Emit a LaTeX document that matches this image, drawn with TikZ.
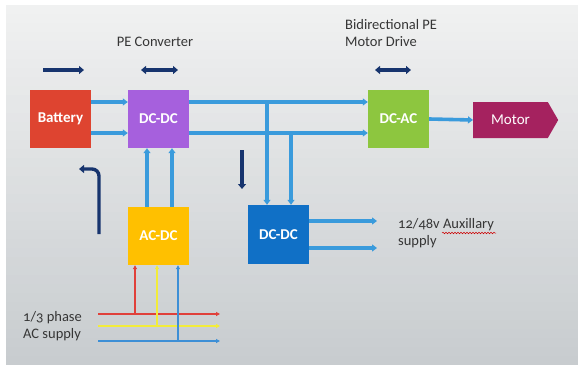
\documentclass[tikz,border=0pt]{standalone}
\usepackage{fontspec}
\setmainfont{Carlito}[Numbers=OldStyle]
\usetikzlibrary{arrows.meta,shapes.symbols,decorations.pathmorphing}
\definecolor{batred}{HTML}{DE4430}
\definecolor{dcpurple}{HTML}{A660DD}
\definecolor{acgreen}{HTML}{8DC63F}
\definecolor{motred}{HTML}{A5225F}
\definecolor{acyellow}{HTML}{FFC000}
\definecolor{auxblue}{HTML}{1070C6}
\definecolor{busblue}{HTML}{3A9BDC}
\definecolor{navy}{HTML}{17346E}
\definecolor{txtgray}{HTML}{363636}
\definecolor{phred}{HTML}{E0403A}
\definecolor{phyellow}{HTML}{F2EC3A}
\definecolor{phblue}{HTML}{3D8FD6}
\definecolor{bgtop}{RGB}{240,241,241}
\definecolor{bgbot}{RGB}{200,204,207}
\tikzset{
  blk/.style={minimum width=61pt, minimum height=58pt, inner sep=0pt, text=white, font=\fontsize{15}{17}\selectfont\bfseries},
  bus/.style={draw=busblue, line width=3.6pt, -{Triangle[length=5pt,width=7pt]}},
  navyarr/.style={draw=navy, line width=3.4pt, -{Triangle[length=5pt,width=8pt]}},
  navydbl/.style={draw=navy, line width=3.4pt, {Triangle[length=5pt,width=8pt]}-{Triangle[length=5pt,width=8pt]}},
  phase/.style={line width=1.2pt, -{Triangle[length=4pt,width=4pt]}},
  lbl/.style={text=txtgray, font=\fontsize{14.5}{17.5}\selectfont, align=left, inner sep=0pt}
}
\begin{document}
\begin{tikzpicture}[x=1pt,y=-1pt]
\useasboundingbox (0,0) rectangle (578,364);
\fill[white] (0,0) rectangle (578,364);
\fill[bgbot] (6,5) rectangle (578,364);
\foreach \i in {0,...,39} {
  \pgfmathtruncatemacro\p{round(\i/39*100)}
  \fill[bgbot!\p!bgtop] (6,{5+\i*9}) rectangle (578,{5+\i*9+9.5});
}

% blocks
\node[blk, fill=batred] (bat) at (60.5,119) {Battery};
\node[blk, fill=dcpurple] (dcdc) at (158.5,119) {DC-DC};
\node[blk, fill=acgreen] (dcac) at (398.5,119) {DC-AC};
\node[blk, fill=acyellow] (acdc) at (158.5,236) {AC-DC};
\node[blk, fill=auxblue, minimum height=59pt] (aux) at (278.5,234.5) {DC-DC};
\node[signal, signal to=east, signal pointer angle=120, fill=motred, text=white,
      minimum width=85pt, minimum height=36pt, inner sep=0pt, anchor=west,
      font=\fontsize{15}{17}\selectfont] (motor) at (473,120) {Motor};

% labels
\node[lbl] (pec) at (155,42) {PE Converter};
\node[lbl, anchor=north west] (bid) at (345,19) {Bidirectional PE\\Motor Drive};
\node[lbl, anchor=west] (auxl) at (398,233) {12/48v Auxillary\\supply};
\node[lbl, anchor=west] (acl) at (23,326) {1/3 phase\\AC supply};
\draw[red!80!black, line width=0.5pt, decorate, decoration={snake, amplitude=0.8pt, segment length=3pt}] (442,233) -- (496,233);

% coordinates
\coordinate (ytop) at (0,102);
\coordinate (ybot) at (0,133);
\coordinate (tap1) at (267,102);
\coordinate (tap2) at (291,133);
\coordinate (o1) at (377,221);
\coordinate (o2) at (377,248);

% battery -> dcdc
\draw[bus] (bat.east |- ytop) -- (dcdc.west |- ytop);
\draw[bus] (bat.east |- ybot) -- (dcdc.west |- ybot);
% dcdc -> dcac
\draw[bus] (dcdc.east |- ytop) -- (dcac.west |- ytop);
\draw[bus] (dcdc.east |- ybot) -- (dcac.west |- ybot);
% taps to aux dcdc
\draw[bus] (tap1) -- (tap1 |- aux.north);
\draw[bus] (tap2) -- (tap2 |- aux.north);
% acdc -> dcdc
\draw[bus] (acdc.north -| 147,0) -- (dcdc.south -| 147,0);
\draw[bus] (acdc.north -| 172,0) -- (dcdc.south -| 172,0);
% dcac -> motor
\draw[bus] (dcac.east) -- (motor.west);
% aux outputs
\draw[bus] (aux.east |- o1) -- (o1);
\draw[bus] (aux.east |- o2) -- (o2);

% phases
\coordinate (r0) at (98,314); \coordinate (r1) at (220,314);
\coordinate (y0) at (98,326); \coordinate (y1) at (220,326);
\coordinate (b0) at (98,341); \coordinate (b1) at (220,341);
\draw[phase, phred] (r0) -- (r1);
\draw[phase, phyellow] (y0) -- (y1);
\draw[phase, phblue] (b0) -- (b1);
\draw[phase, phred] (135,314) -- (acdc.south -| 135,0);
\draw[phase, phyellow] (157,326) -- (acdc.south -| 157,0);
\draw[phase, phblue] (178,341) -- (acdc.south -| 178,0);

% navy direction arrows
\coordinate (a1s) at (43,70); \coordinate (a1e) at (84,70);
\coordinate (a2s) at (141,70); \coordinate (a2e) at (178,70);
\coordinate (a3s) at (375,70); \coordinate (a3e) at (411,70);
\coordinate (a4s) at (242,150); \coordinate (a4e) at (242,189);
\coordinate (h0) at (99,234); \coordinate (h1) at (99,169); \coordinate (h2) at (79,169);
\draw[navyarr] (a1s) -- (a1e);
\draw[navydbl] (a2s) -- (a2e);
\draw[navydbl] (a3s) -- (a3e);
\draw[navyarr] (a4s) -- (a4e);
\draw[navyarr, rounded corners=7pt] (h0) -- (h1) -- (h2);
\end{tikzpicture}
\end{document}
